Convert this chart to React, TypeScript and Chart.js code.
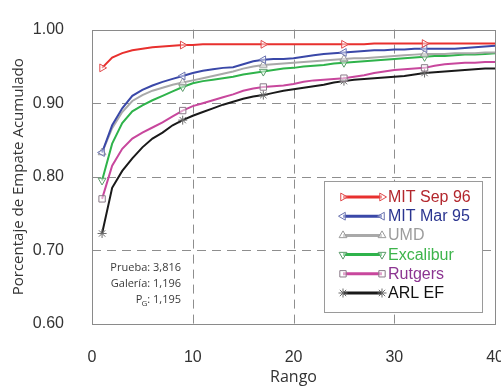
import React, { useEffect, useRef } from "react";
import { Chart, registerables } from "chart.js";
import { drawPoint } from "chart.js/helpers";

Chart.register(...registerables);

const RANKS = [1, 2, 3, 4, 5, 6, 7, 8, 9, 10, 11, 12, 13, 14, 15, 16, 17, 18, 19, 20, 21, 22, 23, 24, 25, 26, 27, 28, 29, 30, 31, 32, 33, 34, 35, 36, 37, 38, 39, 40];
const MARKED_RANKS = [1, 9, 17, 25, 33];
const X_GRID = [10, 20, 30];
const Y_GRID = [0.7, 0.8, 0.9];

const SERIES_NAMES = ["MIT Sep 96", "MIT Mar 95", "UMD", "Excalibur", "Rutgers", "ARL EF"];

const MIT_SEP_96 = [0.948, 0.962, 0.968, 0.972, 0.974, 0.976, 0.977, 0.978, 0.979, 0.979, 0.980, 0.980, 0.980, 0.980, 0.980, 0.980, 0.980, 0.980, 0.980, 0.980, 0.980, 0.980, 0.980, 0.980, 0.980, 0.980, 0.980, 0.981, 0.981, 0.981, 0.981, 0.981, 0.981, 0.981, 0.981, 0.981, 0.981, 0.981, 0.981, 0.981];
const MIT_MAR_95 = [0.833, 0.870, 0.893, 0.910, 0.918, 0.924, 0.929, 0.933, 0.937, 0.941, 0.944, 0.946, 0.948, 0.949, 0.953, 0.957, 0.959, 0.960, 0.960, 0.961, 0.963, 0.965, 0.967, 0.968, 0.969, 0.970, 0.971, 0.972, 0.972, 0.973, 0.973, 0.974, 0.974, 0.974, 0.974, 0.974, 0.975, 0.976, 0.977, 0.978];
const UMD = [0.833, 0.866, 0.888, 0.903, 0.911, 0.917, 0.921, 0.925, 0.928, 0.931, 0.934, 0.937, 0.940, 0.943, 0.947, 0.950, 0.952, 0.953, 0.954, 0.955, 0.956, 0.957, 0.958, 0.959, 0.960, 0.961, 0.961, 0.962, 0.963, 0.964, 0.965, 0.966, 0.967, 0.967, 0.967, 0.968, 0.968, 0.968, 0.969, 0.969];
const EXCALIBUR = [0.795, 0.845, 0.873, 0.889, 0.897, 0.904, 0.910, 0.916, 0.922, 0.927, 0.930, 0.932, 0.934, 0.936, 0.939, 0.941, 0.943, 0.945, 0.947, 0.948, 0.950, 0.951, 0.952, 0.954, 0.955, 0.956, 0.957, 0.958, 0.959, 0.960, 0.961, 0.962, 0.963, 0.964, 0.964, 0.965, 0.966, 0.966, 0.967, 0.968];
const RUTGERS = [0.770, 0.815, 0.838, 0.852, 0.860, 0.867, 0.874, 0.882, 0.890, 0.896, 0.900, 0.904, 0.908, 0.912, 0.917, 0.920, 0.922, 0.923, 0.924, 0.926, 0.929, 0.931, 0.932, 0.933, 0.934, 0.936, 0.938, 0.941, 0.943, 0.945, 0.946, 0.947, 0.948, 0.951, 0.953, 0.954, 0.955, 0.955, 0.956, 0.956];
const ARL_EF = [0.723, 0.785, 0.808, 0.825, 0.840, 0.852, 0.860, 0.870, 0.877, 0.883, 0.888, 0.893, 0.898, 0.902, 0.906, 0.909, 0.911, 0.914, 0.917, 0.919, 0.921, 0.923, 0.925, 0.928, 0.930, 0.932, 0.933, 0.934, 0.935, 0.936, 0.937, 0.939, 0.941, 0.942, 0.943, 0.944, 0.945, 0.946, 0.947, 0.947];

const SERIES_VALUES = [MIT_SEP_96, MIT_MAR_95, UMD, EXCALIBUR, RUTGERS, ARL_EF];

const NOTE_LINES = ["Prueba: 3,816", "Galería: 1,196"];
const NOTE_PG = ": 1,195";

const LINE_COLORS = ["#e8302e", "#3a48a8", "#a9a9a9", "#2fb34b", "#c8479d", "#1a1a1a"];
const MARKER_COLORS = ["#e0484a", "#6b74b0", "#9a9a9a", "#5a9a6a", "#8a7a88", "#6a6a6a"];
const TEXT_COLORS = ["#b3272d", "#2b3590", "#9c9c9c", "#3db44b", "#8c3591", "#111111"];
const POINT_STYLES = ["triangle", "triangle", "triangle", "triangle", "rect", "star"];
const POINT_ROTATIONS = [90, -90, 0, 180, 0, 0];

const frameGridPlugin = {
  id: "frameGrid",
  beforeDatasetsDraw(chart: any) {
    const { ctx, chartArea } = chart;
    const xs = chart.scales.x;
    const ys = chart.scales.y;
    const { left, right, top, bottom } = chartArea;
    ctx.save();
    ctx.lineWidth = 1;
    ctx.strokeStyle = "#8e8e8e";
    ctx.setLineDash([9, 6]);
    X_GRID.forEach((v) => {
      const px = Math.round(xs.getPixelForValue(v)) + 0.5;
      ctx.beginPath();
      ctx.moveTo(px, top);
      ctx.lineTo(px, bottom);
      ctx.stroke();
    });
    Y_GRID.forEach((v) => {
      const py = Math.round(ys.getPixelForValue(v)) + 0.5;
      ctx.beginPath();
      ctx.moveTo(left, py);
      ctx.lineTo(right, py);
      ctx.stroke();
    });
    ctx.setLineDash([]);
    ctx.strokeStyle = "#8a8a8a";
    ctx.strokeRect(Math.round(left) + 0.5, Math.round(top) + 0.5, Math.round(right - left), Math.round(bottom - top));
    ctx.restore();
  },
};

const legendNotePlugin = {
  id: "legendNote",
  afterDraw(chart: any) {
    const { ctx } = chart;
    ctx.save();
    // legend box
    const bx = 324.5, by = 181.5, bw = 158, bh = 131;
    ctx.fillStyle = "#ffffff";
    ctx.fillRect(bx, by, bw, bh);
    ctx.strokeStyle = "#9a9a9a";
    ctx.lineWidth = 1;
    ctx.strokeRect(bx, by, bw, bh);
    SERIES_NAMES.forEach((name, i) => {
      const y = 197 + i * 19.2;
      ctx.strokeStyle = LINE_COLORS[i];
      ctx.lineWidth = 3;
      ctx.beginPath();
      ctx.moveTo(343, y);
      ctx.lineTo(382, y);
      ctx.stroke();
      ctx.strokeStyle = MARKER_COLORS[i];
      ctx.fillStyle = "rgba(255,255,255,0.5)";
      ctx.lineWidth = 1;
      [343, 382].forEach((mx) => {
        drawPoint(ctx, { pointStyle: POINT_STYLES[i], rotation: POINT_ROTATIONS[i], radius: 4.5, borderWidth: 1 } as any, mx, y);
      });
      ctx.fillStyle = TEXT_COLORS[i];
      ctx.font = "16px 'Liberation Sans', Arial, sans-serif";
      ctx.textAlign = "left";
      ctx.textBaseline = "middle";
      ctx.fillText(name, 388, y + 0.5);
    });
    // note
    const rx = 181;
    ctx.fillStyle = "#3a3a3a";
    ctx.textAlign = "right";
    ctx.textBaseline = "middle";
    ctx.font = "11px 'Open Sans', sans-serif";
    NOTE_LINES.forEach((t, i) => ctx.fillText(t, rx, 268 + i * 16));
    const yPG = 300;
    const w1 = ctx.measureText(NOTE_PG).width;
    ctx.fillText(NOTE_PG, rx, yPG);
    ctx.font = "8px 'Open Sans', sans-serif";
    const wG = ctx.measureText("G").width;
    ctx.fillText("G", rx - w1, yPG + 4);
    ctx.font = "11px 'Open Sans', sans-serif";
    ctx.fillText("P", rx - w1 - wG + 1, yPG);
    ctx.restore();
  },
};

export default function App() {
  const canvasRef = useRef<HTMLCanvasElement | null>(null);

  useEffect(() => {
    const canvas = canvasRef.current;
    if (!canvas) return;
    const datasets = SERIES_NAMES.map((name, i) => ({
      label: name,
      data: RANKS.map((r, j) => ({ x: r, y: SERIES_VALUES[i][j] })),
      borderColor: LINE_COLORS[i],
      borderWidth: 2,
      pointStyle: POINT_STYLES[i],
      pointRotation: POINT_ROTATIONS[i],
      pointRadius: (c: any) => (MARKED_RANKS.includes(c.raw?.x) ? 4.5 : 0),
      pointBorderColor: MARKER_COLORS[i],
      pointBackgroundColor: "rgba(255,255,255,0.5)",
      pointBorderWidth: 1,
      tension: 0,
      fill: false,
    }));
    const chart = new Chart(canvas, {
      type: "line",
      data: { datasets },
      options: {
        responsive: false,
        animation: false,
        layout: { padding: { left: 0, top: 13, right: 23, bottom: 0 } },
        plugins: { legend: { display: false }, tooltip: { enabled: false } },
        scales: {
          x: {
            type: "linear",
            min: 0,
            max: 40,
            grid: { display: false },
            border: { display: false },
            ticks: {
              stepSize: 10,
              padding: 16,
              color: "#333333",
              font: { family: "'Liberation Sans', Arial, sans-serif", size: 16 },
            },
            title: {
              display: true,
              text: "Rango",
              color: "#333333",
              font: { family: "'Open Sans', sans-serif", size: 16 },
              padding: { top: 0, bottom: 3 },
            },
            afterFit: (s: any) => {
              s.height = 66;
            },
          },
          y: {
            type: "linear",
            min: 0.6,
            max: 1.0,
            grid: { display: false },
            border: { display: false },
            ticks: {
              stepSize: 0.1,
              padding: 20,
              color: "#333333",
              font: { family: "'Liberation Sans', Arial, sans-serif", size: 16 },
              callback: (v: any) => Number(v).toFixed(2),
            },
            title: {
              display: true,
              text: "Porcentaje de Empate Acumulado",
              color: "#333333",
              font: { family: "'Open Sans', sans-serif", size: 15 },
              padding: { top: 10, bottom: 0 },
            },
            afterFit: (s: any) => {
              s.width = 92;
            },
          },
        },
      } as any,
      plugins: [frameGridPlugin, legendNotePlugin],
    });
    return () => chart.destroy();
  }, []);

  return (
    <div style={{ position: "absolute", left: 0, top: 0, width: 501, height: 390, overflow: "hidden", background: "#ffffff" }}>
      <canvas ref={canvasRef} width={520} height={390} style={{ display: "block" }} />
    </div>
  );
}
